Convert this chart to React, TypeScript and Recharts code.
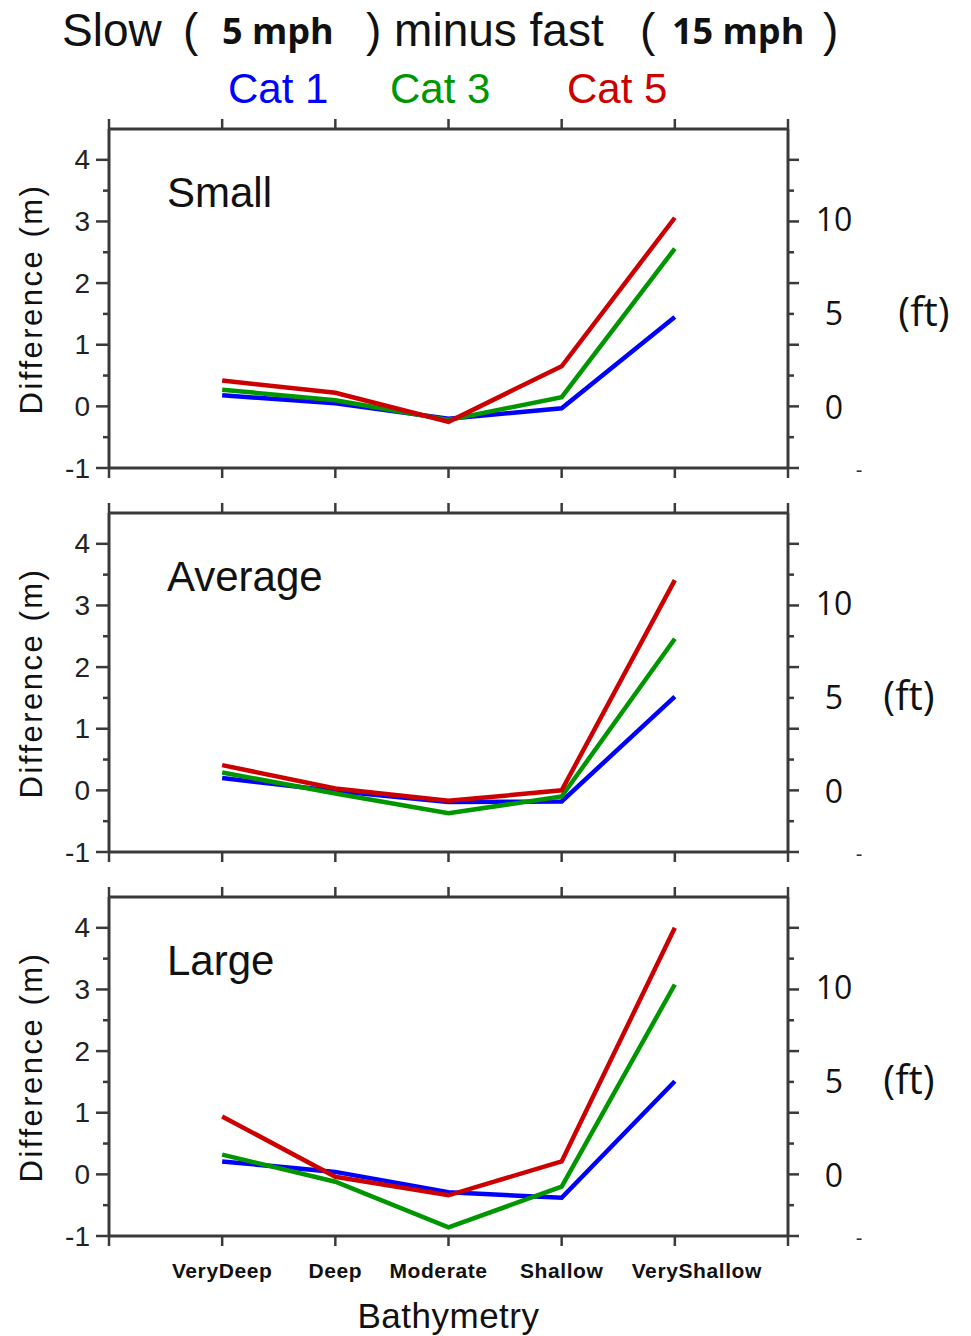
import { Line, LineChart, XAxis, YAxis } from "recharts";

const categories = ["VeryDeep", "Deep", "Moderate", "Shallow", "VeryShallow"];
const seriesNames = ["Cat 1", "Cat 3", "Cat 5"];
const seriesColors = ["#0000ff", "#009600", "#cc0000"];
const panelNames = ["Small", "Average", "Large"];

// difference in metres, slow minus fast
const smallCat1 = [0.18, 0.05, -0.2, -0.03, 1.45];
const smallCat3 = [0.27, 0.1, -0.22, 0.15, 2.56];
const smallCat5 = [0.42, 0.22, -0.25, 0.65, 3.06];

const avgCat1 = [0.2, -0.01, -0.19, -0.18, 1.52];
const avgCat3 = [0.29, -0.05, -0.37, -0.1, 2.46];
const avgCat5 = [0.41, 0.03, -0.17, 0.0, 3.41];

const largeCat1 = [0.21, 0.04, -0.29, -0.38, 1.51];
const largeCat3 = [0.32, -0.12, -0.86, -0.2, 3.08];
const largeCat5 = [0.94, -0.04, -0.34, 0.21, 4.0];

const meterTicks = [-1, -0.5, 0, 0.5, 1, 1.5, 2, 2.5, 3, 3.5, 4];
const feetTicks = [0, 5, 10];
const xTicks = [0, 1, 2, 3, 4, 5, 6];

// small horizontal nudges of the category labels, as in the original
const labelNudge = [0, 0, -10, 0, 22];

const FT = 0.3048;
const FRAME = "#3a3a3a";
const SANS = "'Liberation Sans', Arial, Helvetica, sans-serif";
const CALIBRI = "'Open Sans', 'Noto Sans', sans-serif";

const makeRows = (c1: number[], c3: number[], c5: number[]) =>
  categories.map((name, i) => ({ x: i + 1, name, c1: c1[i], c3: c3[i], c5: c5[i] }));

const panelData = [
  makeRows(smallCat1, smallCat3, smallCat5),
  makeRows(avgCat1, avgCat3, avgCat5),
  makeRows(largeCat1, largeCat3, largeCat5),
];

const feetInMeters = feetTicks.map((f) => f * FT);
const rightTicks = Array.from(new Set([...meterTicks, ...feetInMeters])).sort((a, b) => a - b);

const LeftTick = (props: any) => {
  const { x, y, payload } = props;
  const major = Number.isInteger(payload.value);
  return (
    <g>
      <line x1={x} x2={x - (major ? 13 : 6)} y1={y} y2={y} stroke={FRAME} strokeWidth={2.5} />
      {major && (
        <text x={x - 19} y={y} textAnchor="end" dominantBaseline="central" fontSize={28} fontFamily={SANS} fill="#222">
          {payload.value}
        </text>
      )}
    </g>
  );
};

const makeRightTick = (unitX: number) => (props: any) => {
  const { x, y, payload } = props;
  const v = payload.value;
  const isMark = meterTicks.includes(v);
  const major = Number.isInteger(v);
  const ftIndex = feetInMeters.findIndex((m) => Math.abs(m - v) < 1e-9);
  return (
    <g>
      {isMark && <line x1={x} x2={x + (major ? 11 : 6)} y1={y} y2={y} stroke={FRAME} strokeWidth={2.5} />}
      {v === -1 && (
        <text x={x + 71} y={y + 2} textAnchor="middle" dominantBaseline="central" fontSize={20} fontFamily={SANS} fill="#333">
          -
        </text>
      )}
      {ftIndex >= 0 && (
        <text x={x + 46} y={y} textAnchor="middle" dominantBaseline="central" fontSize={32} fontFamily={CALIBRI} fill="#111">
          {feetTicks[ftIndex]}
        </text>
      )}
      {ftIndex === 1 && (
        <text x={unitX} y={y - 2} textAnchor="middle" dominantBaseline="central" fontSize={40} fontFamily={CALIBRI} fill="#111">
          (ft)
        </text>
      )}
    </g>
  );
};

const makeBottomTick = (showLabels: boolean) => (props: any) => {
  const { x, y, payload } = props;
  const v = payload.value;
  const label = v >= 1 && v <= 5 ? categories[v - 1] : "";
  const dx = v >= 1 && v <= 5 ? labelNudge[v - 1] : 0;
  return (
    <g>
      <line x1={x} x2={x} y1={y} y2={y + 10} stroke={FRAME} strokeWidth={2.5} />
      {showLabels && label && (
        <text x={x + dx} y={y + 34} textAnchor="middle" dominantBaseline="central" fontSize={21} fontWeight="bold" letterSpacing={0.6} fontFamily={SANS} fill="#111">
          {label}
        </text>
      )}
    </g>
  );
};

const TopTick = (props: any) => {
  const { x, y } = props;
  return <line x1={x} x2={x} y1={y} y2={y - 10} stroke={FRAME} strokeWidth={2.5} />;
};

const Panel = ({ index, top }: { index: number; top: number }) => {
  const last = index === 2;
  const bottomH = last ? 100 : 14;
  const unitX = index === 0 ? 924 : 909;
  return (
    <div style={{ position: "absolute", left: 0, top: top - 14 }}>
      <LineChart width={971} height={14 + 339 + bottomH} data={panelData[index]} margin={{ top: 0, right: 0, bottom: 0, left: 0 }}>
        <XAxis
          xAxisId="b"
          dataKey="x"
          type="number"
          domain={[0, 6]}
          ticks={xTicks}
          interval={0}
          height={bottomH}
          tickSize={0}
          tickMargin={0}
          tickLine={false}
          axisLine={{ stroke: FRAME, strokeWidth: 3 }}
          tick={makeBottomTick(last)}
          label={
            last
              ? { value: "Bathymetry", position: "insideBottom", offset: 8, fontSize: 35, fontFamily: SANS, fill: "#111", letterSpacing: 0.5 }
              : undefined
          }
        />
        <XAxis
          xAxisId="t"
          orientation="top"
          dataKey="x"
          type="number"
          domain={[0, 6]}
          ticks={xTicks}
          interval={0}
          height={14}
          tickSize={0}
          tickMargin={0}
          tickLine={false}
          axisLine={{ stroke: FRAME, strokeWidth: 3 }}
          tick={TopTick}
        />
        <YAxis
          yAxisId="m"
          type="number"
          domain={[-1, 4.5]}
          ticks={meterTicks}
          interval={0}
          width={109}
          tickSize={0}
          tickMargin={0}
          tickLine={false}
          axisLine={{ stroke: FRAME, strokeWidth: 3 }}
          tick={LeftTick}
        />
        <YAxis
          yAxisId="r"
          orientation="right"
          type="number"
          domain={[-1, 4.5]}
          ticks={rightTicks}
          interval={0}
          width={183}
          tickSize={0}
          tickMargin={0}
          tickLine={false}
          axisLine={{ stroke: FRAME, strokeWidth: 3 }}
          tick={makeRightTick(unitX)}
        />
        {["c1", "c3", "c5"].map((key, i) => (
          <Line
            key={key}
            xAxisId="b"
            yAxisId={i === 2 ? "r" : "m"}
            type="linear"
            dataKey={key}
            name={seriesNames[i]}
            stroke={seriesColors[i]}
            strokeWidth={4.5}
            dot={false}
            isAnimationActive={false}
          />
        ))}
      </LineChart>
      <div
        style={{
          position: "absolute",
          left: 167,
          top: 14 + 43,
          fontFamily: SANS,
          fontSize: 42,
          lineHeight: "42px",
          color: "#111",
        }}
      >
        {panelNames[index]}
      </div>
      <div
        style={{
          position: "absolute",
          left: 32,
          top: 14 + 170,
          transform: "translate(-50%, -50%) rotate(-90deg)",
          whiteSpace: "nowrap",
          fontFamily: SANS,
          fontSize: 31,
          letterSpacing: 2.5,
          color: "#111",
        }}
      >
        Difference (m)
      </div>
    </div>
  );
};

const App = () => {
  const span = (left: number, top: number, size: number, text: string, extra: any = {}) => (
    <span
      style={{
        position: "absolute",
        left,
        top,
        fontSize: size,
        lineHeight: `${size}px`,
        whiteSpace: "pre",
        fontFamily: SANS,
        color: "#111",
        ...extra,
      }}
    >
      {text}
    </span>
  );
  return (
    <div style={{ position: "absolute", left: 0, top: 0, width: 971, height: 1336, background: "#fff", overflow: "hidden" }}>
      {span(62, 7, 46, "Slow")}
      {span(183, 7, 46, "(")}
      {span(222, 13, 36, "5 mph", { fontFamily: CALIBRI, fontWeight: 700 })}
      {span(366, 7, 46, ") minus fast")}
      {span(640, 7, 46, "(")}
      {span(672, 13, 36, "15 mph", { fontFamily: CALIBRI, fontWeight: 700 })}
      {span(823, 7, 46, ")")}
      {span(228, 68, 42, seriesNames[0], { color: seriesColors[0] })}
      {span(390, 68, 42, seriesNames[1], { color: seriesColors[1] })}
      {span(567, 68, 42, seriesNames[2], { color: seriesColors[2] })}
      <Panel index={0} top={129} />
      <Panel index={1} top={513} />
      <Panel index={2} top={897} />
    </div>
  );
};

export default App;
